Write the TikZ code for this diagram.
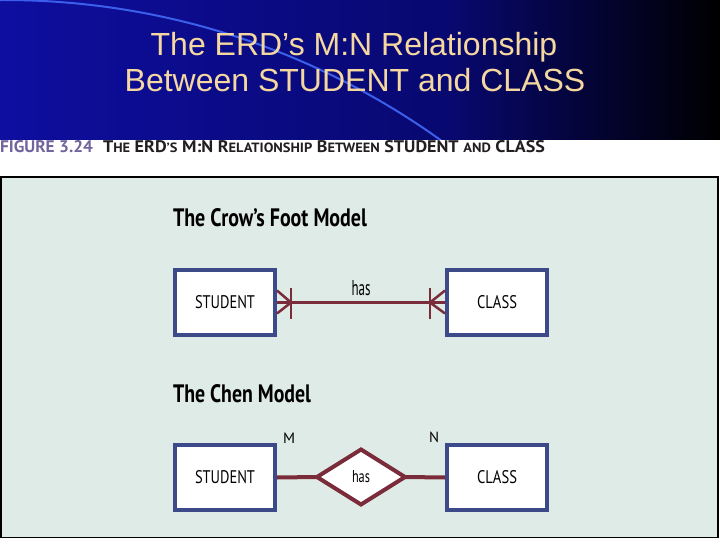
\documentclass[tikz,border=0pt]{standalone}
\usepackage{fontspec}
\usepackage{graphicx}
\setmainfont{Liberation Sans}
\newfontfamily\ptsans{PT Sans}
\usetikzlibrary{shapes.geometric,calc}
\definecolor{bandblue}{RGB}{14,14,160}
\definecolor{bandmid}{RGB}{8,8,112}
\definecolor{arcblue}{RGB}{60,95,235}
\definecolor{titletan}{RGB}{245,215,160}
\definecolor{figpurple}{RGB}{114,100,156}
\definecolor{figdark}{RGB}{35,31,32}
\definecolor{panelbg}{RGB}{223,235,231}
\definecolor{boxblue}{RGB}{61,74,138}
\definecolor{relred}{RGB}{122,44,58}
\begin{document}
\begin{tikzpicture}[x=1pt,y=-1pt,inner sep=0pt,outer sep=0pt,
  entity/.style={draw=boxblue,line width=4pt,fill=white,minimum width=100pt,minimum height=65pt,outer sep=2pt},
  relline/.style={draw=relred,line width=3.5pt},
  footline/.style={draw=relred,line width=2.5pt},
  relshape/.style={diamond,draw=relred,line width=4pt,fill=white,minimum width=88pt,minimum height=55pt},
  bigtitle/.style={text=titletan,font=\fontsize{32}{34}\selectfont,anchor=base}]
\useasboundingbox (0,0) rectangle (720,540);
\fill[white] (0,0) rectangle (720,540);
% header band
\shade[left color=bandblue,right color=bandmid] (0,0) rectangle (450,140);
\shade[left color=bandmid,right color=black] (449.5,0) rectangle (720,140);
\begin{scope}
\clip (0,0) rectangle (720,140);
\draw[arcblue,line width=2pt] (4,750) circle[radius=750];
\end{scope}
\node[bigtitle] (t1) at (354,56) {The ERD’s M:N Relationship};
\node[bigtitle] (t2) at (355,92) {Between STUDENT and CLASS};
% figure heading
\node[anchor=base west,text=figpurple] (fig) at (0,153) {\resizebox{93pt}{12pt}{\ptsans\bfseries FIGURE 3.24}};
\node[anchor=base west,text=figdark] (figt) at (103,153) {\resizebox{442pt}{12pt}{\ptsans\bfseries T{\fontsize{8}{9}\selectfont HE} ERD{\fontsize{8}{9}\selectfont ’S} M:N R{\fontsize{8}{9}\selectfont ELATIONSHIP} B{\fontsize{8}{9}\selectfont ETWEEN} STUDENT {\fontsize{8}{9}\selectfont AND} CLASS}};
% panel
\draw[black,line width=1.5pt,fill=panelbg] (0.75,177) rectangle (718,537.5);
% crow's foot
\node[anchor=base west] (cft) at (173,226) {\resizebox{194pt}{18pt}{\ptsans\bfseries The Crow’s Foot Model}};
\node[entity] (s1) at (225,302.5) {\resizebox{60pt}{13pt}{\ptsans STUDENT}};
\node[entity] (c1) at (497,302.5) {\resizebox{40pt}{13pt}{\ptsans CLASS}};
\draw[relline,line width=3pt] (s1.east) -- (c1.west);
\node[anchor=base] (has1) at (361,295) {\resizebox{19pt}{15pt}{\ptsans has}};
\draw[footline] ($(s1.east)+(14,-15)$) -- ($(s1.east)+(14,16)$);
\draw[footline] ($(s1.east)+(14,0)$) -- ($(s1.east)+(0,-12)$);
\draw[footline] ($(s1.east)+(14,0)$) -- ($(s1.east)+(0,11)$);
\draw[footline] ($(c1.west)+(-15,-15)$) -- ($(c1.west)+(-15,16)$);
\draw[footline] ($(c1.west)+(-15,0)$) -- ($(c1.west)+(0,-12)$);
\draw[footline] ($(c1.west)+(-15,0)$) -- ($(c1.west)+(0,11)$);
% chen
\node[anchor=base west] (cht) at (173,402) {\resizebox{138pt}{18pt}{\ptsans\bfseries The Chen Model}};
\node[entity] (s2) at (225,477.5) {\resizebox{60pt}{13pt}{\ptsans STUDENT}};
\node[entity] (c2) at (497,477.5) {\resizebox{40pt}{13pt}{\ptsans CLASS}};
\node[relshape] (d) at (361,477) {\resizebox{18pt}{12pt}{\ptsans has}};
\draw[relline,line width=4pt] (s2.east) -- (d.west);
\draw[relline,line width=4pt] (d.east) -- (c2.west);
\node[anchor=base west] (m) at (283,443) {\resizebox{12pt}{10.5pt}{\ptsans M}};
\node[anchor=base west] (n) at (429,442) {\resizebox{10pt}{10.5pt}{\ptsans N}};
\end{tikzpicture}
\end{document}
